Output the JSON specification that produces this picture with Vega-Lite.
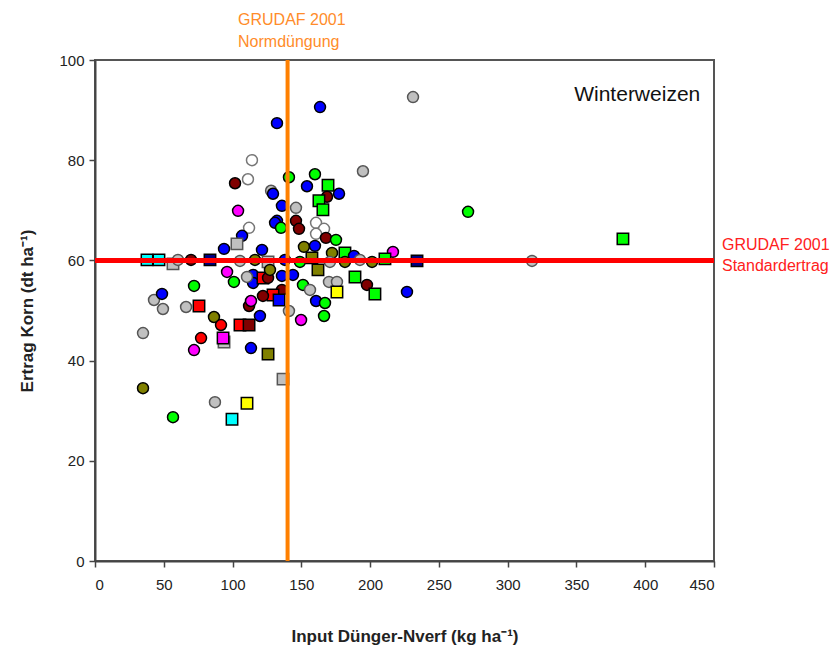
{
  "$schema": "https://vega.github.io/schema/vega-lite/v6.json",
  "width": 619,
  "height": 501,
  "autosize": {"type": "none"},
  "padding": {"left": 95, "top": 60, "right": 124, "bottom": 92},
  "background": "white",
  "config": {
    "view": {"stroke": "#555555", "strokeWidth": 2},
    "font": "Liberation Sans",
    "axis": {"grid": false, "domainColor": "#444444", "domainWidth": 2, "tickColor": "#444444", "tickWidth": 1.5, "tickSize": 6, "labelFont": "Liberation Sans", "labelFontSize": 15, "labelColor": "#222222", "titleFont": "Liberation Sans", "titleFontSize": 17, "titleFontWeight": "bold", "titleColor": "#222222"}
  },
  "datasets": {
    "pts": [
      {"x":231.2,"y":92.6,"c":"grey","s":"circle"},
      {"x":163.6,"y":90.6,"c":"blue","s":"circle"},
      {"x":132.3,"y":87.4,"c":"blue","s":"circle"},
      {"x":114.1,"y":80.0,"c":"white","s":"circle"},
      {"x":194.8,"y":77.8,"c":"grey","s":"circle"},
      {"x":101.8,"y":75.4,"c":"darkred","s":"circle"},
      {"x":111.2,"y":76.2,"c":"white","s":"circle"},
      {"x":141.0,"y":76.6,"c":"green","s":"circle"},
      {"x":159.9,"y":77.2,"c":"green","s":"circle"},
      {"x":154.1,"y":74.8,"c":"blue","s":"circle"},
      {"x":169.4,"y":75.0,"c":"green","s":"square"},
      {"x":177.4,"y":73.3,"c":"blue","s":"circle"},
      {"x":168.7,"y":72.7,"c":"darkred","s":"circle"},
      {"x":162.8,"y":71.9,"c":"green","s":"square"},
      {"x":165.7,"y":70.1,"c":"green","s":"square"},
      {"x":128.0,"y":73.9,"c":"grey","s":"circle"},
      {"x":129.4,"y":73.3,"c":"blue","s":"circle"},
      {"x":135.9,"y":70.9,"c":"blue","s":"circle"},
      {"x":146.1,"y":70.5,"c":"grey","s":"circle"},
      {"x":104.0,"y":69.9,"c":"magenta","s":"circle"},
      {"x":132.3,"y":67.9,"c":"blue","s":"circle"},
      {"x":130.9,"y":67.5,"c":"blue","s":"circle"},
      {"x":135.2,"y":66.5,"c":"green","s":"circle"},
      {"x":112.0,"y":66.5,"c":"white","s":"circle"},
      {"x":106.9,"y":64.9,"c":"blue","s":"circle"},
      {"x":103.2,"y":63.3,"c":"grey","s":"square"},
      {"x":146.1,"y":67.9,"c":"darkred","s":"circle"},
      {"x":148.3,"y":66.3,"c":"darkred","s":"circle"},
      {"x":160.7,"y":67.5,"c":"white","s":"circle"},
      {"x":166.5,"y":66.3,"c":"white","s":"circle"},
      {"x":160.7,"y":65.3,"c":"white","s":"circle"},
      {"x":167.9,"y":64.5,"c":"darkred","s":"circle"},
      {"x":175.2,"y":64.1,"c":"green","s":"circle"},
      {"x":151.9,"y":62.7,"c":"olive","s":"circle"},
      {"x":159.9,"y":62.9,"c":"blue","s":"circle"},
      {"x":93.8,"y":62.3,"c":"blue","s":"circle"},
      {"x":121.4,"y":62.1,"c":"blue","s":"circle"},
      {"x":172.3,"y":61.5,"c":"olive","s":"circle"},
      {"x":181.7,"y":61.5,"c":"green","s":"square"},
      {"x":188.3,"y":60.9,"c":"blue","s":"circle"},
      {"x":216.6,"y":61.7,"c":"magenta","s":"circle"},
      {"x":271.2,"y":69.7,"c":"green","s":"circle"},
      {"x":383.8,"y":64.3,"c":"green","s":"square"},
      {"x":234.1,"y":59.9,"c":"navy","s":"square"},
      {"x":317.7,"y":59.9,"c":"grey","s":"circle"},
      {"x":37.8,"y":60.1,"c":"cyan","s":"square"},
      {"x":46.5,"y":60.1,"c":"cyan","s":"square"},
      {"x":56.7,"y":59.3,"c":"grey","s":"square"},
      {"x":60.3,"y":60.1,"c":"grey","s":"circle"},
      {"x":69.8,"y":60.1,"c":"darkred","s":"circle"},
      {"x":83.6,"y":60.1,"c":"navy","s":"square"},
      {"x":105.4,"y":59.9,"c":"grey","s":"circle"},
      {"x":116.3,"y":60.1,"c":"olive","s":"circle"},
      {"x":125.8,"y":59.7,"c":"grey","s":"square"},
      {"x":138.1,"y":60.1,"c":"blue","s":"circle"},
      {"x":149.0,"y":59.7,"c":"green","s":"circle"},
      {"x":157.7,"y":60.5,"c":"olive","s":"square"},
      {"x":170.8,"y":59.7,"c":"grey","s":"circle"},
      {"x":181.7,"y":59.7,"c":"olive","s":"circle"},
      {"x":192.6,"y":60.1,"c":"grey","s":"circle"},
      {"x":201.4,"y":59.7,"c":"olive","s":"circle"},
      {"x":210.8,"y":60.3,"c":"green","s":"square"},
      {"x":96.0,"y":57.7,"c":"magenta","s":"circle"},
      {"x":101.0,"y":55.7,"c":"green","s":"circle"},
      {"x":114.9,"y":57.1,"c":"blue","s":"circle"},
      {"x":114.9,"y":55.5,"c":"blue","s":"circle"},
      {"x":122.1,"y":56.5,"c":"red","s":"square"},
      {"x":125.8,"y":56.5,"c":"darkred","s":"circle"},
      {"x":110.5,"y":56.7,"c":"grey","s":"circle"},
      {"x":127.2,"y":58.1,"c":"olive","s":"circle"},
      {"x":135.9,"y":56.9,"c":"blue","s":"circle"},
      {"x":143.9,"y":57.1,"c":"blue","s":"circle"},
      {"x":162.1,"y":58.1,"c":"olive","s":"square"},
      {"x":189.0,"y":56.7,"c":"green","s":"square"},
      {"x":151.2,"y":55.1,"c":"green","s":"circle"},
      {"x":156.3,"y":54.1,"c":"grey","s":"circle"},
      {"x":170.1,"y":55.7,"c":"grey","s":"circle"},
      {"x":175.9,"y":55.7,"c":"grey","s":"circle"},
      {"x":175.9,"y":53.7,"c":"yellow","s":"square"},
      {"x":197.7,"y":55.1,"c":"darkred","s":"circle"},
      {"x":203.5,"y":53.3,"c":"green","s":"square"},
      {"x":226.8,"y":53.7,"c":"blue","s":"circle"},
      {"x":160.7,"y":51.9,"c":"blue","s":"circle"},
      {"x":167.2,"y":51.5,"c":"green","s":"circle"},
      {"x":166.5,"y":48.9,"c":"green","s":"circle"},
      {"x":149.8,"y":48.1,"c":"magenta","s":"circle"},
      {"x":141.0,"y":49.9,"c":"grey","s":"circle"},
      {"x":135.9,"y":54.1,"c":"darkred","s":"circle"},
      {"x":129.4,"y":53.1,"c":"red","s":"square"},
      {"x":133.8,"y":52.1,"c":"blue","s":"square"},
      {"x":122.1,"y":52.9,"c":"darkred","s":"circle"},
      {"x":112.0,"y":50.9,"c":"darkred","s":"circle"},
      {"x":113.4,"y":51.9,"c":"magenta","s":"circle"},
      {"x":119.9,"y":48.9,"c":"blue","s":"circle"},
      {"x":105.4,"y":47.1,"c":"red","s":"square"},
      {"x":112.0,"y":47.1,"c":"darkred","s":"square"},
      {"x":72.0,"y":54.9,"c":"green","s":"circle"},
      {"x":42.9,"y":52.1,"c":"grey","s":"circle"},
      {"x":48.7,"y":53.3,"c":"blue","s":"circle"},
      {"x":49.4,"y":50.3,"c":"grey","s":"circle"},
      {"x":66.2,"y":50.7,"c":"grey","s":"circle"},
      {"x":75.6,"y":50.9,"c":"red","s":"square"},
      {"x":86.5,"y":48.7,"c":"olive","s":"circle"},
      {"x":91.6,"y":47.1,"c":"red","s":"circle"},
      {"x":34.9,"y":45.5,"c":"grey","s":"circle"},
      {"x":77.1,"y":44.5,"c":"red","s":"circle"},
      {"x":93.8,"y":43.7,"c":"grey","s":"square"},
      {"x":93.1,"y":44.5,"c":"magenta","s":"square"},
      {"x":72.0,"y":42.1,"c":"magenta","s":"circle"},
      {"x":113.4,"y":42.5,"c":"blue","s":"circle"},
      {"x":125.8,"y":41.3,"c":"olive","s":"square"},
      {"x":136.7,"y":36.3,"c":"grey","s":"square"},
      {"x":34.9,"y":34.5,"c":"olive","s":"circle"},
      {"x":87.2,"y":31.7,"c":"grey","s":"circle"},
      {"x":110.5,"y":31.5,"c":"yellow","s":"square"},
      {"x":56.7,"y":28.7,"c":"green","s":"circle"},
      {"x":99.6,"y":28.3,"c":"cyan","s":"square"}
    ],
    "labels": [
      {"x": 440, "y": 93, "t": "Winterweizen"}
    ],
    "vlab": [
      {"x": 104, "y": 108.0, "t": "GRUDAF 2001\nNormdüngung"}
    ],
    "hlab": [
      {"x": 455.8, "y": 63.1, "t": "GRUDAF 2001\nStandardertrag"}
    ],
    "refx": [{"v": 140}],
    "refy": [{"v": 60}]
  },
  "layer": [
    {
      "data": {"name": "pts"},
      "mark": {"type": "point", "filled": true, "strokeWidth": 1.5, "opacity": 1, "clip": true},
      "encoding": {
        "x": {"field": "x", "type": "quantitative", "scale": {"domain": [0, 450], "nice": false}, "axis": {"values": [0,50,100,150,200,250,300,350,400,450], "title": "Input Dünger-Nverf (kg ha⁻¹)", "titlePadding": 36, "labelPadding": 10}},
        "y": {"field": "y", "type": "quantitative", "scale": {"domain": [0, 100], "nice": false}, "axis": {"values": [0,20,40,60,80,100], "title": "Ertrag Korn (dt ha⁻¹)", "titlePadding": 22, "labelPadding": 5}},
        "shape": {"field": "s", "type": "nominal", "scale": {"domain": ["circle", "square"], "range": ["circle", "square"]}, "legend": null},
        "size": {"field": "s", "type": "nominal", "scale": {"domain": ["circle", "square"], "range": [120, 130]}, "legend": null},
        "fill": {"field": "c", "type": "nominal", "scale": {"domain": ["blue","white","grey","darkred","green","magenta","red","olive","yellow","cyan","navy"], "range": ["#0000ff","#ffffff","#c0c0c0","#800000","#00ff00","#ff00ff","#ff0000","#808000","#ffff00","#00ffff","#000080"]}, "legend": null},
        "stroke": {"field": "c", "type": "nominal", "scale": {"domain": ["blue","white","grey","darkred","green","magenta","red","olive","yellow","cyan","navy"], "range": ["#000000","#777777","#555555","#000000","#000000","#000000","#000000","#000000","#000000","#000000","#000000"]}, "legend": null}
      }
    },
    {
      "data": {"name": "refx"},
      "mark": {"type": "rule", "color": "#ff8000", "strokeWidth": 4},
      "encoding": {"x": {"field": "v", "type": "quantitative"}}
    },
    {
      "data": {"name": "refy"},
      "mark": {"type": "rule", "color": "#ff0000", "strokeWidth": 5},
      "encoding": {"y": {"field": "v", "type": "quantitative"}}
    },
    {
      "data": {"name": "labels"},
      "mark": {"type": "text", "align": "right", "baseline": "middle", "fontSize": 21, "font": "Liberation Sans", "color": "#111111"},
      "encoding": {"x": {"field": "x", "type": "quantitative"}, "y": {"field": "y", "type": "quantitative"}, "text": {"field": "t"}}
    },
    {
      "data": {"name": "vlab"},
      "mark": {"type": "text", "align": "left", "baseline": "middle", "fontSize": 16, "font": "Liberation Sans", "color": "#ff8c2a", "lineBreak": "\n", "lineHeight": 22, "clip": false},
      "encoding": {"x": {"field": "x", "type": "quantitative"}, "y": {"field": "y", "type": "quantitative"}, "text": {"field": "t"}}
    },
    {
      "data": {"name": "hlab"},
      "mark": {"type": "text", "align": "left", "baseline": "middle", "fontSize": 16, "font": "Liberation Sans", "color": "#ff2020", "lineBreak": "\n", "lineHeight": 21, "clip": false},
      "encoding": {"x": {"field": "x", "type": "quantitative"}, "y": {"field": "y", "type": "quantitative"}, "text": {"field": "t"}}
    }
  ]
}
